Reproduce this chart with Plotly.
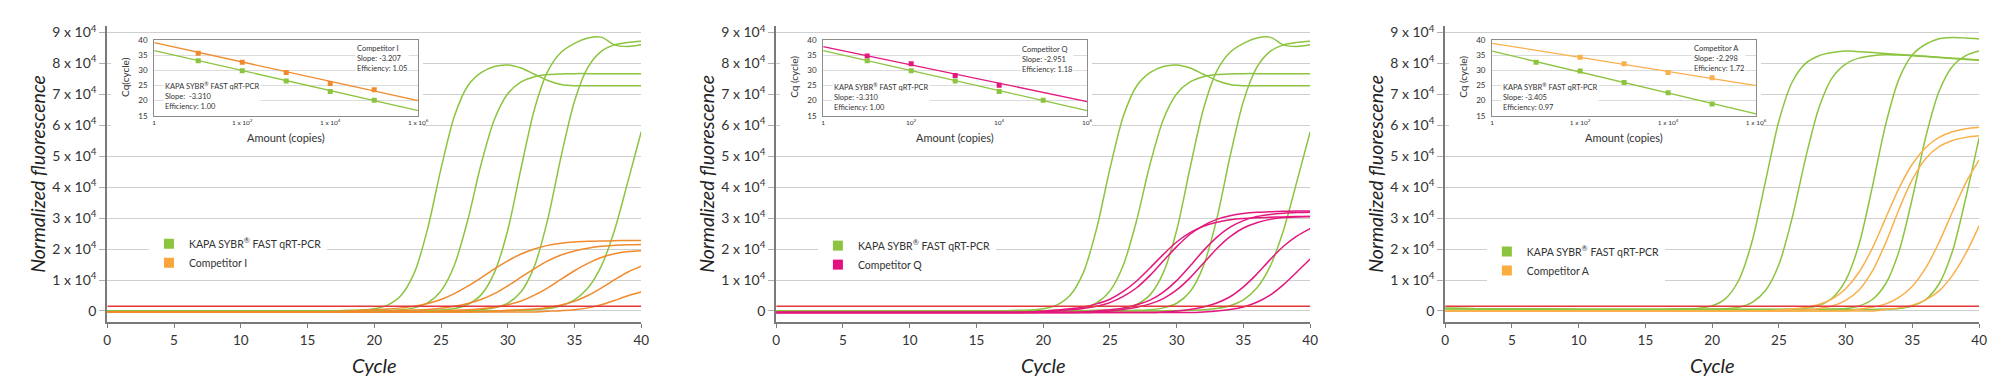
import plotly.graph_objects as go

# ---------------- DATA ----------------
CYCLES = [0, 5, 10, 15, 16, 17, 18, 19, 20, 21, 22, 23, 24, 25, 26, 27, 28,
          29, 30, 31, 32, 33, 34, 35, 36, 37, 38, 39, 40]

# Normalized fluorescence, units of 1 x 10^4
# KAPA SYBR FAST qRT-PCR curves (same run shown in panels 1 and 2)
KAPA_IQ_1 = [0, 0, 0, 0, 0.01, 0.01, 0.02, 0.03, 0.07, 0.19, 0.50, 1.23, 2.66, 4.60, 6.29,
             7.27, 7.70, 7.90, 7.95, 7.85, 7.65, 7.45, 7.32, 7.28, 7.28, 7.28, 7.28, 7.28, 7.28]
KAPA_IQ_2 = [0, 0, 0, 0, 0, 0, 0.01, 0.01, 0.01, 0.02, 0.04, 0.10, 0.26, 0.65, 1.48,
             2.93, 4.74, 6.19, 7.02, 7.40, 7.57, 7.64, 7.66, 7.67, 7.67, 7.67, 7.67, 7.67, 7.67]
KAPA_IQ_3 = [0, 0, 0, 0, 0, 0, 0, 0, 0, 0, 0, 0.01, 0.02, 0.03, 0.08,
             0.21, 0.52, 1.24, 2.61, 4.62, 6.52, 7.75, 8.36, 8.65, 8.82, 8.85, 8.60, 8.55, 8.60]
KAPA_IQ_4 = [0, 0, 0, 0, 0, 0, 0, 0, 0, 0, 0, 0, 0, 0, 0.01,
             0.02, 0.04, 0.10, 0.25, 0.62, 1.45, 2.97, 5.00, 6.78, 7.87, 8.39, 8.60, 8.68, 8.72]
KAPA_IQ_5 = [0, 0, 0, 0, 0, 0, 0, 0, 0, 0, 0, 0, 0, 0, 0,
             0, 0, 0, 0.01, 0.02, 0.04, 0.08, 0.17, 0.36, 0.74, 1.44, 2.61, 4.18, 5.79]

COMP_I_1 = [-0.03, -0.03, -0.03, -0.03, -0.03, -0.02, 0.00, 0.02, 0.04, 0.06, 0.10, 0.15, 0.24, 0.37, 0.56,
            0.80, 1.07, 1.36, 1.62, 1.84, 2.00, 2.12, 2.19, 2.23, 2.25, 2.26, 2.27, 2.28, 2.28]
COMP_I_2 = [-0.03, -0.03, -0.03, -0.03, -0.03, -0.03, -0.03, -0.03, -0.02, 0.00, 0.02, 0.03, 0.05, 0.09, 0.15,
            0.24, 0.37, 0.56, 0.81, 1.09, 1.37, 1.62, 1.81, 1.94, 2.03, 2.09, 2.12, 2.14, 2.15]
COMP_I_3 = [-0.03, -0.03, -0.03, -0.03, -0.03, -0.03, -0.03, -0.03, -0.03, -0.03, -0.03, -0.03, -0.02, 0.00, 0.02,
            0.04, 0.07, 0.12, 0.20, 0.32, 0.51, 0.75, 1.03, 1.30, 1.54, 1.73, 1.85, 1.92, 1.95]
COMP_I_4 = [-0.03, -0.03, -0.03, -0.03, -0.03, -0.03, -0.03, -0.03, -0.03, -0.03, -0.03, -0.03, -0.03, -0.03, -0.03,
            -0.03, -0.02, 0.00, 0.02, 0.04, 0.06, 0.11, 0.19, 0.31, 0.50, 0.74, 1.01, 1.26, 1.45]
COMP_I_5 = [-0.03, -0.03, -0.03, -0.03, -0.03, -0.03, -0.03, -0.03, -0.03, -0.03, -0.03, -0.03, -0.03, -0.03, -0.03,
            -0.03, -0.03, -0.03, -0.03, -0.03, -0.03, -0.01, 0.01, 0.04, 0.10, 0.20, 0.34, 0.49, 0.61]

COMP_Q_1 = [-0.05, -0.05, -0.05, -0.05, -0.05, -0.05, -0.05, -0.03, 0.00, 0.03, 0.07, 0.13, 0.23, 0.38, 0.63,
            0.97, 1.39, 1.83, 2.23, 2.53, 2.74, 2.87, 2.95, 2.99, 3.01, 3.03, 3.04, 3.05, 3.05]
COMP_Q_2 = [-0.05, -0.05, -0.05, -0.05, -0.05, -0.05, -0.05, -0.05, -0.03, 0.00, 0.04, 0.08, 0.15, 0.27, 0.47,
            0.75, 1.15, 1.62, 2.08, 2.48, 2.76, 2.96, 3.08, 3.15, 3.19, 3.21, 3.22, 3.23, 3.23]
COMP_Q_3 = [-0.05, -0.05, -0.05, -0.05, -0.05, -0.05, -0.05, -0.05, -0.05, -0.05, -0.05, -0.03, 0.00, 0.04, 0.10,
            0.20, 0.35, 0.61, 0.98, 1.45, 1.95, 2.38, 2.71, 2.92, 3.05, 3.12, 3.16, 3.18, 3.19]
COMP_Q_4 = [-0.05, -0.05, -0.05, -0.05, -0.05, -0.05, -0.05, -0.05, -0.05, -0.05, -0.05, -0.05, -0.03, 0.00, 0.05,
            0.12, 0.23, 0.40, 0.68, 1.07, 1.54, 2.01, 2.40, 2.68, 2.85, 2.96, 3.02, 3.04, 3.05]
COMP_Q_5 = [-0.05, -0.05, -0.05, -0.05, -0.05, -0.05, -0.05, -0.05, -0.05, -0.05, -0.05, -0.05, -0.05, -0.05, -0.05,
            -0.05, -0.05, -0.03, 0.00, 0.05, 0.13, 0.26, 0.46, 0.78, 1.19, 1.66, 2.09, 2.42, 2.66]
COMP_Q_6 = [-0.05, -0.05, -0.05, -0.05, -0.05, -0.05, -0.05, -0.05, -0.05, -0.05, -0.05, -0.05, -0.05, -0.05, -0.05,
            -0.05, -0.05, -0.05, -0.05, -0.05, -0.03, 0.00, 0.05, 0.13, 0.28, 0.51, 0.85, 1.26, 1.68]

KAPA_A_1 = [0.08, 0.06, 0.05, 0.05, 0.05, 0.06, 0.07, 0.09, 0.17, 0.40, 1.00, 2.26, 4.20, 6.14, 7.40,
            8.00, 8.25, 8.35, 8.40, 8.38, 8.35, 8.32, 8.29, 8.26, 8.23, 8.20, 8.17, 8.14, 8.11]
KAPA_A_2 = [0.08, 0.06, 0.05, 0.05, 0.05, 0.05, 0.05, 0.05, 0.06, 0.07, 0.12, 0.28, 0.66, 1.50, 3.02,
            4.94, 6.57, 7.54, 7.98, 8.17, 8.25, 8.28, 8.27, 8.25, 8.22, 8.19, 8.16, 8.13, 8.10]
KAPA_A_3 = [0.08, 0.06, 0.05, 0.05, 0.05, 0.05, 0.05, 0.05, 0.05, 0.05, 0.05, 0.05, 0.05, 0.05, 0.06,
            0.09, 0.18, 0.42, 0.99, 2.15, 4.01, 6.03, 7.50, 8.28, 8.62, 8.80, 8.84, 8.82, 8.79]
KAPA_A_4 = [0.08, 0.06, 0.05, 0.05, 0.05, 0.05, 0.05, 0.05, 0.05, 0.05, 0.05, 0.05, 0.05, 0.05, 0.05,
            0.05, 0.05, 0.06, 0.08, 0.16, 0.37, 0.88, 1.93, 3.65, 5.62, 7.10, 7.90, 8.25, 8.40]
KAPA_A_5 = [0.08, 0.06, 0.05, 0.05, 0.05, 0.05, 0.05, 0.05, 0.05, 0.05, 0.05, 0.05, 0.05, 0.05, 0.05,
            0.05, 0.05, 0.05, 0.05, 0.05, 0.05, 0.06, 0.08, 0.16, 0.37, 0.88, 1.93, 3.65, 5.60]

COMP_A_1 = [0, 0, 0, 0, 0, 0, 0, 0, 0, 0, 0, 0, 0, 0.03, 0.06,
            0.11, 0.21, 0.39, 0.72, 1.25, 2.03, 3.00, 3.97, 4.75, 5.28, 5.61, 5.79, 5.89, 5.94]
COMP_A_2 = [0, 0, 0, 0, 0, 0, 0, 0, 0, 0, 0, 0, 0, 0, 0,
            0.04, 0.08, 0.16, 0.34, 0.68, 1.29, 2.20, 3.29, 4.25, 4.93, 5.31, 5.51, 5.61, 5.66]
COMP_A_3 = [0, 0, 0, 0, 0, 0, 0, 0, 0, 0, 0, 0, 0, 0, 0,
            0, 0, 0, 0, 0.06, 0.12, 0.23, 0.44, 0.80, 1.39, 2.22, 3.20, 4.14, 4.88]
COMP_A_4 = [0, 0, 0, 0, 0, 0, 0, 0, 0, 0, 0, 0, 0, 0, 0,
            0, 0, 0, 0, 0, 0, 0.05, 0.10, 0.19, 0.36, 0.65, 1.15, 1.86, 2.75]

THRESHOLD = 0.15

Y_TICKS = [0, 1, 2, 3, 4, 5, 6, 7, 8, 9]
Y_TICK_TEXT = ["0", "1 x 10<sup>4</sup>", "2 x 10<sup>4</sup>", "3 x 10<sup>4</sup>", "4 x 10<sup>4</sup>",
               "5 x 10<sup>4</sup>", "6 x 10<sup>4</sup>", "7 x 10<sup>4</sup>", "8 x 10<sup>4</sup>",
               "9 x 10<sup>4</sup>"]
X_TICKS = [0, 5, 10, 15, 20, 25, 30, 35, 40]

# Standard-curve insets: amount (copies) vs Cq (cycle)
INSET_X_TICKS = [1, 100, 10000, 1000000]
INSET_X_TEXT_A = ["1", "1 x 10<sup>2</sup>", "1 x 10<sup>4</sup>", "1 x 10<sup>6</sup>"]
INSET_X_TEXT_B = ["1", "10<sup>2</sup>", "10<sup>4</sup>", "10<sup>6</sup>"]
FIT_AMOUNT = [1, 1000000]

KAPA_AMOUNT = [10, 100, 1000, 10000, 100000]
KAPA_CQ_IQ = [33.2, 29.9, 26.5, 23.0, 20.1]
KAPA_FIT_IQ = [36.6, 16.7]
COMP_I_AMOUNT = [10, 100, 1000, 10000, 100000]
COMP_I_CQ = [35.7, 32.7, 29.3, 25.7, 23.6]
COMP_I_FIT = [39.2, 20.0]
COMP_Q_AMOUNT = [10, 100, 1000, 10000]
COMP_Q_CQ = [34.8, 32.2, 28.3, 25.1]
COMP_Q_FIT = [37.9, 19.7]
KAPA_CQ_A = [32.7, 29.8, 26.0, 22.6, 18.9]
KAPA_FIT_A = [36.4, 15.6]
COMP_A_AMOUNT = [100, 1000, 10000, 100000]
COMP_A_CQ = [34.4, 32.2, 29.3, 27.6]
COMP_A_FIT = [39.0, 25.0]

# ---------------- STYLE / LAYOUT ----------------
W, H = 2000, 381
FONT = "Lato"
GREEN = "#8cc43f"
RED = "#e4373c"
GRID = "#cfcfcf"
AXIS = "#7a7a7a"
TXT = "#333333"


def px(x):
    return x / W


def py(y):
    return 1 - y / H


panels = [
    dict(kapa=[KAPA_IQ_1, KAPA_IQ_2, KAPA_IQ_3, KAPA_IQ_4, KAPA_IQ_5],
         comp=[COMP_I_1, COMP_I_2, COMP_I_3, COMP_I_4, COMP_I_5],
         color="#f08a2c", key="#f8a63c", name="Competitor I",
         kapa_cq=KAPA_CQ_IQ, kapa_fit=KAPA_FIT_IQ,
         comp_amount=COMP_I_AMOUNT, comp_cq=COMP_I_CQ, comp_fit=COMP_I_FIT,
         comp_text="Competitor I<br>Slope: -3.207<br>Efficiency: 1.05",
         kapa_text="KAPA SYBR<sup>®</sup> FAST qRT-PCR<br>Slope:  -3.310<br>Efficiency: 1.00",
         xtext=INSET_X_TEXT_A, cqtitle="Cq(cycle)",
         left=96, leg_y=222, comp_lbl=(346, 47), kapa_lbl=(152, 85)),
    dict(kapa=[KAPA_IQ_1, KAPA_IQ_2, KAPA_IQ_3, KAPA_IQ_4, KAPA_IQ_5],
         comp=[COMP_Q_1, COMP_Q_2, COMP_Q_3, COMP_Q_4, COMP_Q_5, COMP_Q_6],
         color="#e3177e", key="#e5107f", name="Competitor Q",
         kapa_cq=KAPA_CQ_IQ, kapa_fit=KAPA_FIT_IQ,
         comp_amount=COMP_Q_AMOUNT, comp_cq=COMP_Q_CQ, comp_fit=COMP_Q_FIT,
         comp_text="Competitor Q<br>Slope: -2.951<br>Efficiency: 1.18",
         kapa_text="KAPA SYBR<sup>®</sup> FAST qRT-PCR<br>Slope: -3.310<br>Efficiency: 1.00",
         xtext=INSET_X_TEXT_B, cqtitle="Cq (cycle)",
         left=770, leg_y=224, comp_lbl=(1016, 48), kapa_lbl=(826, 86)),
    dict(kapa=[KAPA_A_1, KAPA_A_2, KAPA_A_3, KAPA_A_4, KAPA_A_5],
         comp=[COMP_A_1, COMP_A_2, COMP_A_3, COMP_A_4],
         color="#f9b04b", key="#fbad40", name="Competitor A",
         kapa_cq=KAPA_CQ_A, kapa_fit=KAPA_FIT_A,
         comp_amount=COMP_A_AMOUNT, comp_cq=COMP_A_CQ, comp_fit=COMP_A_FIT,
         comp_text="Competitor A<br>Slope: -2.298<br>Efficiency: 1.72",
         kapa_text="KAPA SYBR<sup>®</sup> FAST qRT-PCR<br>Slope: -3.405<br>Efficiency: 0.97",
         xtext=INSET_X_TEXT_A, cqtitle="Cq (cycle)",
         left=1444, leg_y=230, comp_lbl=(1693, 47), kapa_lbl=(1500, 86)),
]

PLOT_W = 538
MAIN_TOP, MAIN_BOT = 13, 317.7
INSET_TOP, INSET_BOT = 28, 105.5

fig = go.Figure()
layout = dict(
    width=W, height=H, margin=dict(l=0, r=0, t=0, b=0),
    paper_bgcolor="white", plot_bgcolor="white",
    font=dict(family=FONT, color=TXT),
    showlegend=True,
)
annotations = []
shapes = []

for i, p in enumerate(panels):
    n = i + 1
    sfx = "" if n == 1 else str(n)
    xa, ya = "x" + sfx, "y" + sfx
    cov = str(n + 3)
    ins = str(n + 6)
    leg = "legend" if n == 1 else "legend" + str(n)
    L = p["left"]

    # main axes
    layout["xaxis" + sfx] = dict(
        domain=[px(L), px(L + PLOT_W)], anchor=ya, range=[0, 40],
        tickvals=X_TICKS, ticks="outside", ticklen=4, tickcolor=AXIS, tickwidth=1,
        showline=True, linecolor=AXIS, linewidth=2, showgrid=False, zeroline=False,
        tickfont=dict(family=FONT, size=13.5, color=TXT),
    )
    layout["yaxis" + sfx] = dict(
        domain=[py(MAIN_BOT), py(MAIN_TOP)], anchor=xa, range=[-0.368, 9.22],
        tickvals=Y_TICKS, ticktext=Y_TICK_TEXT, ticks="outside", ticklen=6,
        tickcolor="#b0b0b0", showline=True, linecolor=AXIS, linewidth=2,
        showgrid=True, gridcolor=GRID, gridwidth=1, zeroline=False,
        tickfont=dict(family=FONT, size=14, color=TXT),
    )

    # amplification curves
    for curve in p["kapa"]:
        fig.add_trace(go.Scatter(x=CYCLES, y=curve, mode="lines", xaxis=xa, yaxis=ya,
                                 line=dict(color=GREEN, width=1.5, shape="spline", smoothing=0.8),
                                 showlegend=False, hoverinfo="skip"))
    for curve in p["comp"]:
        fig.add_trace(go.Scatter(x=CYCLES, y=curve, mode="lines", xaxis=xa, yaxis=ya,
                                 line=dict(color=p["color"], width=1.5, shape="spline", smoothing=0.8),
                                 showlegend=False, hoverinfo="skip"))
    fig.add_trace(go.Scatter(x=[CYCLES[0], CYCLES[-1]], y=[THRESHOLD, THRESHOLD], mode="lines",
                             xaxis=xa, yaxis=ya, line=dict(color=RED, width=1.5),
                             showlegend=False, hoverinfo="skip"))

    # legend entries
    fig.add_trace(go.Scatter(x=[None], y=[None], mode="markers", xaxis=xa, yaxis=ya,
                             marker=dict(symbol="square", size=10, color=GREEN),
                             name="KAPA SYBR<sup>®</sup> FAST qRT-PCR", legend=leg))
    fig.add_trace(go.Scatter(x=[None], y=[None], mode="markers", xaxis=xa, yaxis=ya,
                             marker=dict(symbol="square", size=10, color=p["key"]),
                             name=p["name"], legend=leg))
    layout[leg] = dict(x=px(L + 42), y=py(p["leg_y"]), xanchor="left", yanchor="top",
                       bgcolor="white", borderwidth=0, itemsizing="trace",
                       tracegroupgap=0, font=dict(family=FONT, size=10.5, color=TXT))

    # white cover behind inset (hides main gridlines)
    layout["xaxis" + cov] = dict(domain=[px(L + 4), px(L + 318)], anchor="y" + cov,
                                 range=[0, 1], visible=False, fixedrange=True)
    layout["yaxis" + cov] = dict(domain=[py(137), py(23)], anchor="x" + cov,
                                 range=[0, 1], visible=False, fixedrange=True)
    fig.add_trace(go.Scatter(x=[None], y=[None], xaxis="x" + cov, yaxis="y" + cov,
                             showlegend=False, hoverinfo="skip"))
    shapes.append(dict(type="rect", xref="x" + cov, yref="y" + cov, x0=0, x1=1, y0=0, y1=1,
                       fillcolor="white", line=dict(width=0), layer="below"))

    # inset axes
    layout["xaxis" + ins] = dict(
        domain=[px(L + 47.3), px(L + 313.3)], anchor="y" + ins, type="log", range=[0, 6],
        tickvals=INSET_X_TICKS, ticktext=p["xtext"], ticks="",
        showline=True, mirror=True, linecolor="#8c8c8c", linewidth=1,
        showgrid=False, zeroline=False, tickfont=dict(family=FONT, size=6.5, color=TXT),
    )
    layout["yaxis" + ins] = dict(
        domain=[py(INSET_BOT), py(INSET_TOP)], anchor="x" + ins, range=[15, 40],
        tickvals=[15, 20, 25, 30, 35, 40], ticks="", ticklabelstandoff=4,
        showline=True, mirror=True, linecolor="#8c8c8c", linewidth=1,
        showgrid=True, gridcolor="#dcdcdc", zeroline=False,
        tickfont=dict(family=FONT, size=8, color=TXT),
    )
    fig.add_trace(go.Scatter(x=FIT_AMOUNT, y=p["comp_fit"], mode="lines",
                             xaxis="x" + ins, yaxis="y" + ins,
                             line=dict(color=p["color"], width=1.3), showlegend=False, hoverinfo="skip"))
    fig.add_trace(go.Scatter(x=FIT_AMOUNT, y=p["kapa_fit"], mode="lines",
                             xaxis="x" + ins, yaxis="y" + ins,
                             line=dict(color=GREEN, width=1.3), showlegend=False, hoverinfo="skip"))
    fig.add_trace(go.Scatter(x=p["comp_amount"], y=p["comp_cq"], mode="markers",
                             xaxis="x" + ins, yaxis="y" + ins,
                             marker=dict(symbol="square", size=5, color=p["color"]),
                             showlegend=False, hoverinfo="skip"))
    fig.add_trace(go.Scatter(x=KAPA_AMOUNT, y=p["kapa_cq"], mode="markers",
                             xaxis="x" + ins, yaxis="y" + ins,
                             marker=dict(symbol="square", size=5, color=GREEN),
                             showlegend=False, hoverinfo="skip"))

    # inset text blocks
    cx, cy = p["comp_lbl"]
    annotations.append(dict(text=p["comp_text"], xref="paper", yref="paper", x=px(cx), y=py(cy),
                            xanchor="left", yanchor="middle", align="left", showarrow=False,
                            bgcolor="white", borderpad=1,
                            font=dict(family=FONT, size=7.5, color=TXT)))
    kx, ky = p["kapa_lbl"]
    annotations.append(dict(text=p["kapa_text"], xref="paper", yref="paper", x=px(kx), y=py(ky),
                            xanchor="left", yanchor="middle", align="left", showarrow=False,
                            bgcolor="white", borderpad=1,
                            font=dict(family=FONT, size=7.5, color=TXT)))
    # inset axis titles
    annotations.append(dict(text=p["cqtitle"], xref="paper", yref="paper", x=px(L + 18.5), y=py(66),
                            xanchor="center", yanchor="middle", textangle=-90, showarrow=False,
                            font=dict(family=FONT, size=10, color=TXT)))
    annotations.append(dict(text="Amount (copies)", xref="paper", yref="paper",
                            x=px(L + 180.3), y=py(128), xanchor="center", yanchor="middle",
                            showarrow=False, font=dict(family=FONT, size=11, color=TXT)))
    # main axis titles
    annotations.append(dict(text="<i>Normalized fluorescence</i>", xref="paper", yref="paper",
                            x=px(L - 71), y=py((MAIN_TOP + MAIN_BOT) / 2), xanchor="center",
                            yanchor="middle", textangle=-90, showarrow=False,
                            font=dict(family=FONT, size=19.5, color="#222222")))
    annotations.append(dict(text="<i>Cycle</i>", xref="paper", yref="paper",
                            x=px(L + PLOT_W / 2), y=py(362), xanchor="center", yanchor="middle",
                            showarrow=False, font=dict(family=FONT, size=20, color="#222222")))

layout["annotations"] = annotations
layout["shapes"] = shapes
fig.update_layout(**layout)

fig.write_html("out.html")
